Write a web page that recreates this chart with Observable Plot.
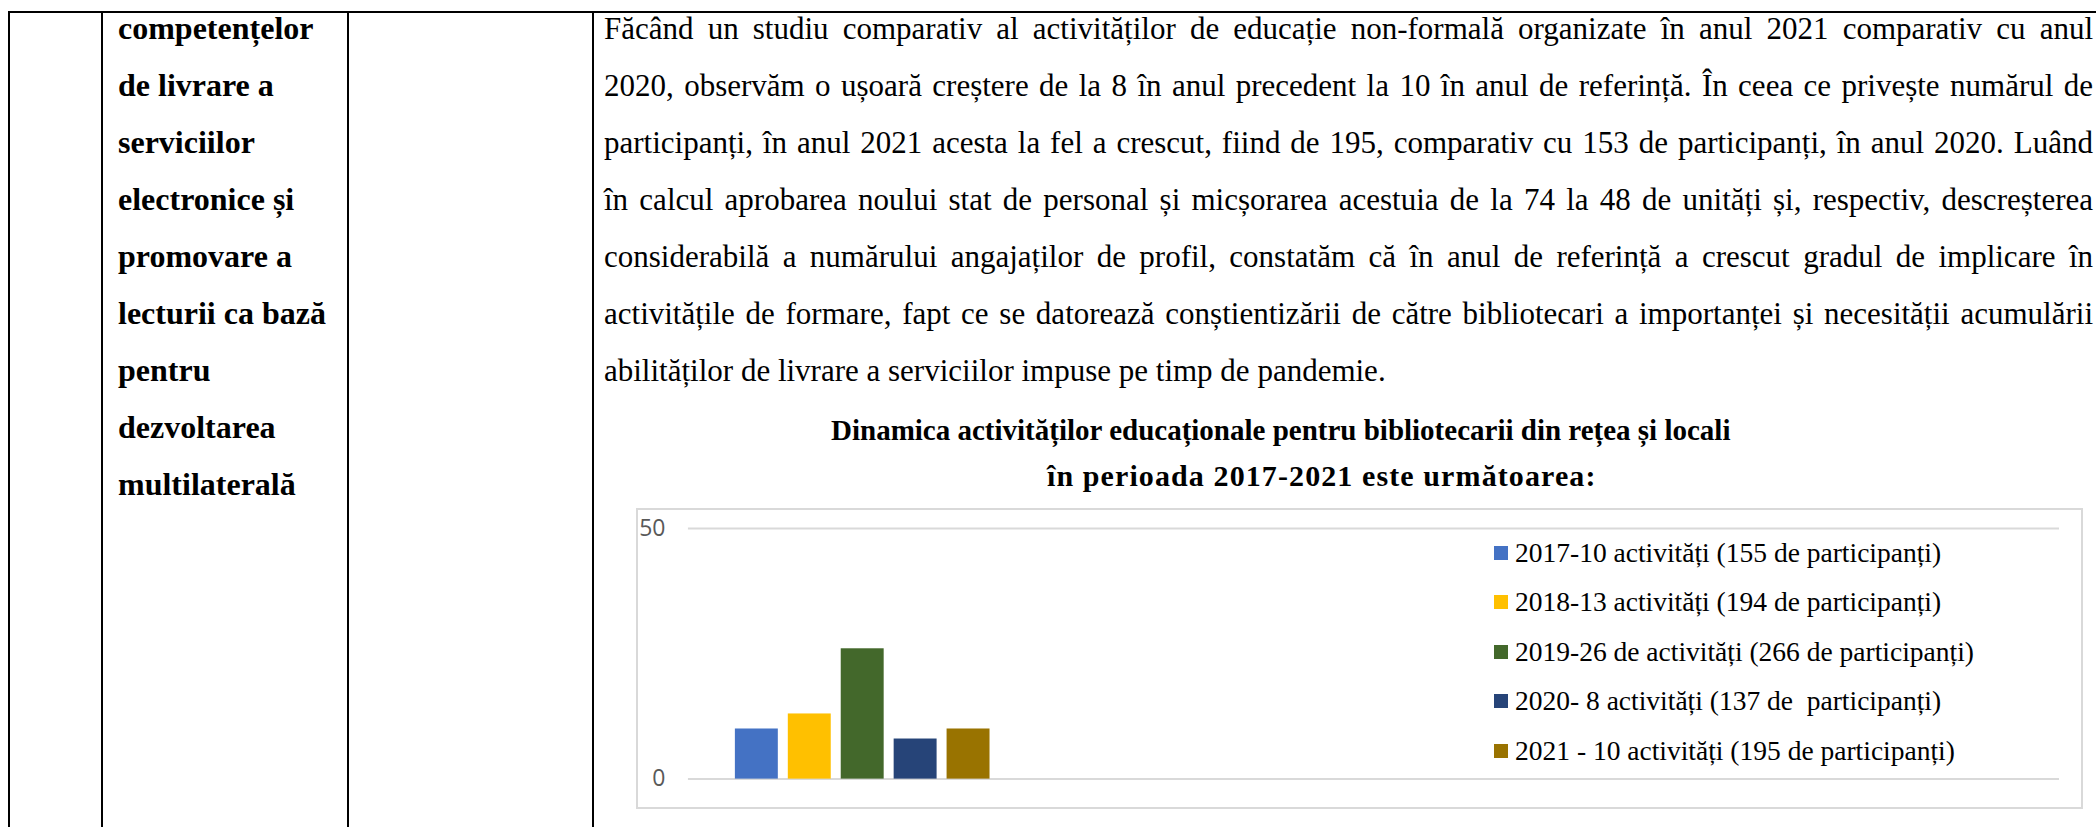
<!DOCTYPE html>
<html>
<head>
<meta charset="utf-8">
<script src="https://cdn.jsdelivr.net/npm/d3@7"></script>
<script src="https://cdn.jsdelivr.net/npm/@observablehq/plot@0.6"></script>
<style>
  html, body { margin: 0; padding: 0; background: #fff; }
  #page { position: relative; width: 2096px; height: 827px; overflow: hidden; background: #fff;
          font-family: "Liberation Serif", "Times New Roman", serif; color: #000; }
  .hline, .vline { position: absolute; background: #000; }
  .c2 { position: absolute; left: 118px; font-weight: bold; font-size: 32px; line-height: 57px; white-space: nowrap; }
  .c4 { position: absolute; left: 604px; width: 1489px; font-size: 31px; line-height: 57px; }
  .c4 div { text-align: justify; text-align-last: justify; height: 57px; overflow: visible; }
  .c4 div.last { text-align-last: left; }
  .title { position: absolute; font-weight: bold; line-height: 46px; white-space: nowrap; }
  #box { position: absolute; left: 636px; top: 508px; width: 1447px; height: 301px; box-sizing: border-box;
         border: 2px solid #d9d9d9; }
  #chart { position: absolute; left: -2px; top: -2px; }
  .leg { position: absolute; display: flex; align-items: center; height: 50px; white-space: pre;
         font-size: 27.5px; font-family: "Liberation Serif", "Times New Roman", serif; }
  .leg .sw { width: 14px; height: 14px; margin-right: 7px; flex: none; }
</style>
</head>
<body>
<div id="page">
  <div class="hline" style="left:8px; top:11px; width:2088px; height:2px;"></div>
  <div class="vline" style="left:8px; top:11px; width:2px; height:816px;"></div>
  <div class="vline" style="left:101px; top:11px; width:2px; height:816px;"></div>
  <div class="vline" style="left:347px; top:11px; width:2px; height:816px;"></div>
  <div class="vline" style="left:592px; top:11px; width:2px; height:816px;"></div>

  <div class="c2" id="col2" style="top:0px;"></div>
  <div class="c4" id="col4" style="top:0px;"></div>

  <div class="title" id="t1" style="left:831px; top:407px; font-size:29px;"></div>
  <div class="title" id="t2" style="left:1047px; top:453px; font-size:30px; letter-spacing:1.1px;"></div>

  <div id="box"><div id="chart"></div></div>
  <div id="legend"></div>
</div>
<script>
// ---- data ----
const years = ["2017", "2018", "2019", "2020", "2021"];
const activities = [10, 13, 26, 8, 10];
const legendLabels = [
  "2017-10 activități (155 de participanți)",
  "2018-13 activități (194 de participanți)",
  "2019-26 de activități (266 de participanți)",
  "2020- 8 activități (137 de  participanți)",
  "2021 - 10 activități (195 de participanți)"
];
const colors = ["#4472C4", "#FFC000", "#43682B", "#264478", "#997300"];
const yTicks = [0, 50];
const yDomain = [0, 50];

const col2Lines = ["competențelor", "de livrare a", "serviciilor", "electronice și", "promovare a",
  "lecturii ca bază", "pentru", "dezvoltarea", "multilaterală"];
const bodyLines = [
  "Făcând un studiu comparativ al activităților de educație non-formală organizate în anul 2021 comparativ cu anul",
  "2020, observăm o ușoară creștere de la 8 în anul precedent la 10 în anul de referință. În ceea ce privește numărul de",
  "participanți, în anul 2021 acesta la fel a crescut, fiind de 195, comparativ cu 153 de participanți, în anul 2020. Luând",
  "în calcul aprobarea noului stat de personal și micșorarea acestuia de la 74 la 48 de unități și, respectiv, descreșterea",
  "considerabilă a numărului angajaților de profil, constatăm că în anul de referință a crescut gradul de implicare în",
  "activitățile de formare, fapt ce se datorează conștientizării de către bibliotecari a importanței și necesității acumulării",
  "abilităților de livrare a serviciilor impuse pe timp de pandemie."
];
const titleLines = [
  "Dinamica activităților educaționale pentru bibliotecarii din rețea și locali",
  "în perioada 2017-2021 este următoarea:"
];

// ---- text ----
const c2 = document.getElementById("col2");
col2Lines.forEach(t => { const d = document.createElement("div"); d.textContent = t; c2.appendChild(d); });
const c4 = document.getElementById("col4");
bodyLines.forEach((t, i) => {
  const d = document.createElement("div"); d.textContent = t;
  if (i === bodyLines.length - 1) d.className = "last";
  c4.appendChild(d);
});
document.getElementById("t1").textContent = titleLines[0];
document.getElementById("t2").textContent = titleLines[1];

// ---- chart ----
const data = years.map((y, i) => ({year: y, value: activities[i]}));
const chart = Plot.plot({
  width: 1447,
  height: 301,
  marginLeft: 52,
  marginRight: 22,
  marginTop: 20,
  marginBottom: 30,
  x: {domain: years, range: [98, 355], paddingInner: 0.19, paddingOuter: 0, axis: null},
  y: {domain: yDomain, axis: null},
  color: {domain: years, range: colors},
  style: {background: "transparent", overflow: "visible"},
  marks: [
    Plot.ruleY(yTicks, {stroke: "#d9d9d9", strokeWidth: 2}),
    Plot.barY(data, {x: "year", y: "value", fill: "year"}),
    Plot.axisY(yTicks, {tickSize: 0, tickPadding: 23, fill: "#595959", fontSize: 23,
      fontFamily: "Open Sans", label: null})
  ]
});
document.getElementById("chart").appendChild(chart);

// ---- legend (overlaid at right of the plot area) ----
const leg = document.getElementById("legend");
const rowCenters = [553, 602, 652, 701, 751];
legendLabels.forEach((t, i) => {
  const row = document.createElement("div");
  row.className = "leg";
  row.style.left = "1494px";
  row.style.top = (rowCenters[i] - 25) + "px";
  const sw = document.createElement("span"); sw.className = "sw"; sw.style.background = colors[i];
  const tx = document.createElement("span"); tx.textContent = t;
  row.appendChild(sw); row.appendChild(tx);
  leg.appendChild(row);
});
</script>
</body>
</html>
